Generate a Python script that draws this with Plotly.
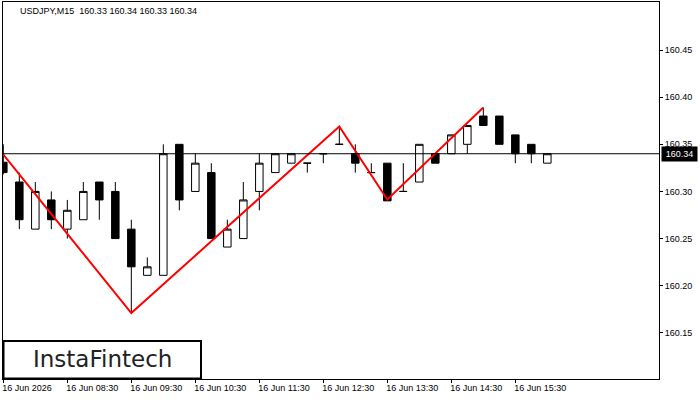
import plotly.graph_objects as go

# ---- data ----
times = ["07:30","07:45","08:00","08:15","08:30","08:45","09:00","09:15","09:30","09:45",
         "10:00","10:15","10:30","10:45","11:00","11:15","11:30","11:45","12:00","12:15",
         "12:30","12:45","13:00","13:15","13:30","13:45","14:00","14:15","14:30","14:45",
         "15:00","15:15","15:30","15:45","16:00"]
opens  = [160.331,160.310,160.260,160.291,160.260,160.270,160.310,160.300,160.260,160.211,
          160.211,160.350,160.300,160.320,160.241,160.250,160.300,160.320,160.330,160.330,
          160.340,160.350,160.340,160.320,160.330,160.300,160.310,160.340,160.340,160.350,
          160.380,160.380,160.360,160.350,160.330]
highs  = [160.350,160.320,160.310,160.300,160.291,160.310,160.310,160.310,160.270,160.230,
          160.350,160.350,160.340,160.330,160.270,160.310,160.340,160.340,160.340,160.330,
          160.340,160.369,160.350,160.330,160.330,160.330,160.350,160.340,160.360,160.370,
          160.389,160.380,160.360,160.350,160.340]
lows   = [160.318,160.260,160.260,160.260,160.250,160.270,160.270,160.250,160.171,160.211,
          160.211,160.280,160.300,160.250,160.241,160.250,160.280,160.320,160.330,160.320,
          160.330,160.350,160.320,160.320,160.290,160.300,160.310,160.330,160.340,160.340,
          160.370,160.350,160.330,160.330,160.330]
closes = [160.320,160.270,160.300,160.270,160.280,160.300,160.291,160.250,160.220,160.220,
          160.340,160.291,160.330,160.250,160.260,160.291,160.330,160.340,160.340,160.330,
          160.340,160.350,160.330,160.320,160.290,160.300,160.350,160.330,160.360,160.370,
          160.370,160.350,160.340,160.340,160.340]

pattern_idx = [0, 8, 21, 24, 30]
pattern_val = [160.339, 160.171, 160.369, 160.2915, 160.389]

tick_idx = [0, 4, 8, 12, 16, 20, 24, 28, 32]
tick_labels = ["16 Jun 2026", "16 Jun 08:30", "16 Jun 09:30", "16 Jun 10:30", "16 Jun 11:30",
               "16 Jun 12:30", "16 Jun 13:30", "16 Jun 14:30", "16 Jun 15:30"]
y_ticks = [160.15, 160.20, 160.25, 160.30, 160.35, 160.40, 160.45]

title_text = "USDJPY,M15  160.33 160.34 160.33 160.34"
x = list(range(len(times)))
last_close = closes[-1]

FONT = "Liberation Sans, Arial, sans-serif"

fig = go.Figure()
fig.add_trace(go.Candlestick(
    x=x, open=opens, high=highs, low=lows, close=closes,
    increasing=dict(line=dict(color="black", width=1), fillcolor="white"),
    decreasing=dict(line=dict(color="black", width=1), fillcolor="black"),
    whiskerwidth=0, showlegend=False, hoverinfo="skip",
))
fig.add_trace(go.Scatter(
    x=pattern_idx, y=pattern_val, mode="lines",
    line=dict(color="#ff0000", width=2), showlegend=False, hoverinfo="skip",
))

# plot geometry: plot area x 3..659, y 2..379
L, R, T, B = 3, 41, 2, 21
W, H = 700, 400
pw, ph = W - L - R, H - T - B

def px(xp):
    return (xp - L) / pw

def py(yp):
    return (H - B - yp) / ph

fig.add_shape(type="line", xref="paper", yref="y", x0=0, x1=1, y0=last_close, y1=last_close,
              line=dict(color="black", width=1))

# logo box
fig.add_shape(type="rect", xref="paper", yref="paper", x0=px(3.5), x1=px(201), y0=py(378.5), y1=py(341),
              line=dict(color="black", width=2), fillcolor="white", layer="above")

fig.add_annotation(text="InstaFintech", xref="paper", yref="paper", x=px(102), y=py(359),
                   xanchor="center", yanchor="middle", showarrow=False,
                   font=dict(family="DejaVu Sans, sans-serif", size=23, color="#222222"))

fig.add_annotation(text=title_text, xref="paper", yref="paper", x=px(18), y=py(11),
                   xanchor="left", yanchor="middle", showarrow=False,
                   font=dict(family=FONT, size=9, color="black"))

fig.add_annotation(text=f"{last_close:.2f}", xref="paper", yref="y", x=px(661), y=last_close,
                   xanchor="left", yanchor="middle", showarrow=False,
                   bgcolor="black", width=33, height=12, borderpad=1, align="center",
                   font=dict(family=FONT, size=9, color="white"))

fig.update_layout(
    width=W, height=H,
    margin=dict(l=L, r=R, t=T, b=B, pad=0),
    paper_bgcolor="white", plot_bgcolor="white",
    boxgap=0.33,
    xaxis=dict(range=[-0.02, 40.98], rangeslider=dict(visible=False), showgrid=False, zeroline=False,
               tickmode="array", tickvals=tick_idx, ticktext=tick_labels,
               ticks="outside", ticklen=3, tickcolor="black", tickwidth=1,
               ticklabelposition="outside right", ticklabelshift=-2,
               tickfont=dict(family=FONT, size=9, color="black"),
               showline=True, linecolor="black", linewidth=1, mirror=True),
    yaxis=dict(range=[160.101, 160.501], side="right", showgrid=False, zeroline=False,
               tickmode="array", tickvals=y_ticks, ticktext=[f"{v:.2f}" for v in y_ticks],
               ticks="outside", ticklen=3, tickcolor="black", tickwidth=1,
               tickfont=dict(family=FONT, size=9, color="black"),
               showline=True, linecolor="black", linewidth=1, mirror=True),
)

fig.write_html("out.html")
